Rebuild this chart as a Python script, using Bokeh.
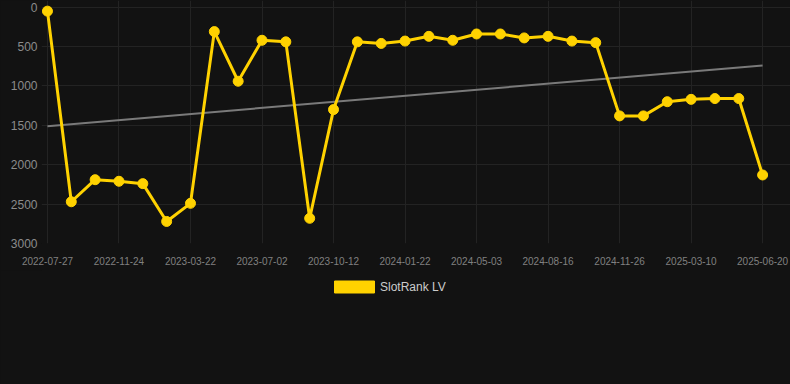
from bokeh.plotting import figure
from bokeh.layouts import column
from bokeh.models import Range1d, FixedTicker, Legend, LegendItem, ColumnDataSource
from bokeh.embed import file_html
from bokeh.resources import INLINE

# ---- data ----
tick_labels = ["2022-07-27", "2022-11-24", "2023-03-22", "2023-07-02", "2023-10-12",
               "2024-01-22", "2024-05-03", "2024-08-16", "2024-11-26", "2025-03-10",
               "2025-06-20"]
rank_values = [50, 2470, 2190, 2210, 2240, 2720, 2490, 310, 940, 420,
               440, 2680, 1300, 440, 460, 430, 370, 420, 340, 340,
               390, 370, 430, 450, 1380, 1380, 1200, 1170, 1160, 1160,
               2130]
trend_values = [1510, 740]
y_ticks = [0, 500, 1000, 1500, 2000, 2500, 3000]
series_name = "SlotRank LV"

BG = "#121212"
YELLOW = "#FFD200"
GRID = "#232323"

n = len(rank_values)
idx = list(range(n))
tick_step = 3
tick_positions = [i * tick_step for i in range(len(tick_labels))]

W = 790
# small padding around the data area so edge markers are not clipped
p = figure(width=W, height=270, output_backend="svg", toolbar_location=None,
           x_range=Range1d(-0.25, (n - 1) + 1.17), y_range=Range1d(y_ticks[-1], -85),
           min_border_left=41, min_border_right=0, min_border_top=0, min_border_bottom=27)
p.background_fill_color = BG
p.border_fill_color = BG
p.outline_line_color = None

# axes
p.xaxis.ticker = FixedTicker(ticks=tick_positions)
p.xaxis.major_label_overrides = {pos: lab for pos, lab in zip(tick_positions, tick_labels)}
p.yaxis.ticker = FixedTicker(ticks=y_ticks)
for ax in (p.xaxis, p.yaxis):
    ax.axis_line_color = None
    ax.major_tick_line_color = None
    ax.minor_tick_line_color = None
    ax.major_tick_out = 0
    ax.major_tick_in = 0
    ax.minor_tick_out = 0
    ax.minor_tick_in = 0
    ax.major_label_text_font = "Liberation Sans"
p.xaxis.major_label_text_font_size = "10px"
p.xaxis.major_label_text_color = "#808080"
p.xaxis.major_label_standoff = 13
p.yaxis.major_label_text_font_size = "12px"
p.yaxis.major_label_text_color = "#8c8c8c"
p.yaxis.major_label_standoff = 4

p.xgrid.grid_line_color = GRID
p.ygrid.grid_line_color = GRID

# trend line
p.line(x=[0, n - 1], y=trend_values, line_color="#7a7a7a", line_width=2)

# main series
src = ColumnDataSource(dict(x=idx, y=rank_values))
p.line("x", "y", source=src, line_color=YELLOW, line_width=3)
p.scatter("x", "y", source=src, size=10, fill_color=YELLOW, line_color=YELLOW)

# ---- legend strip below the chart ----
leg = figure(width=W, height=114, output_backend="svg", toolbar_location=None,
             x_range=Range1d(0, 1), y_range=Range1d(0, 1),
             min_border_left=0, min_border_right=0, min_border_top=0, min_border_bottom=0)
leg.background_fill_color = BG
leg.border_fill_color = BG
leg.outline_line_color = None
leg.axis.visible = False
leg.grid.visible = False

nan = float("nan")
swatch = leg.quad(left=[nan], right=[nan], top=[nan], bottom=[nan],
                  fill_color=YELLOW, line_color=YELLOW)
legend = Legend(items=[LegendItem(label=series_name, renderers=[swatch])],
                orientation="horizontal", location=(288, 90),
                glyph_width=50, glyph_height=15, label_standoff=1,
                label_text_font="Liberation Sans", label_text_font_size="12px",
                label_text_color="#cccccc", background_fill_alpha=0,
                border_line_color=None, padding=2, margin=0, spacing=0)
leg.add_layout(legend, "center")

layout = column(p, leg, spacing=0)

html = file_html(layout, INLINE)
html = html.replace("</head>", "<style>html,body{background:#121212;}</style></head>", 1)
open("out.html", "w").write(html)
